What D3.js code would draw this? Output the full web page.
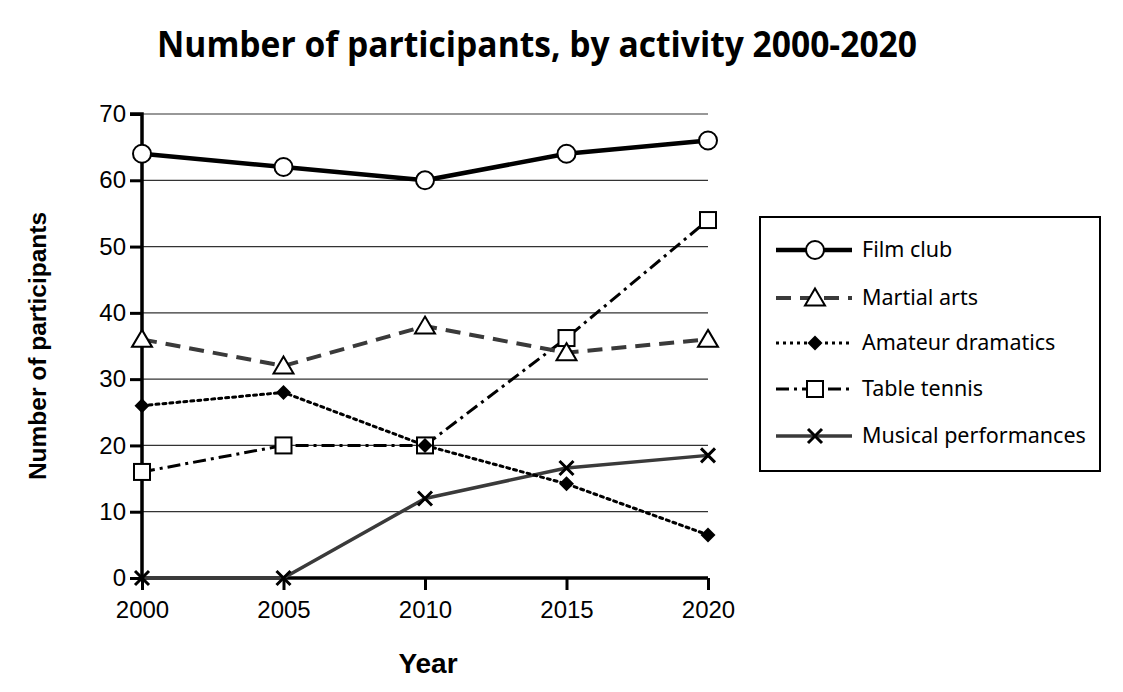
<!DOCTYPE html>
<html><head><meta charset="utf-8">
<script src="https://cdn.jsdelivr.net/npm/d3@7"></script>
<style>body{margin:0;background:#fff}</style>
</head><body>
<svg id="c" width="1123" height="692"></svg>
<script>
const years = [2000, 2005, 2010, 2015, 2020];
const yTicks = [0, 10, 20, 30, 40, 50, 60, 70];
const seriesNames = ["Film club", "Martial arts", "Amateur dramatics", "Table tennis", "Musical performances"];
const filmClub = [64, 62, 60, 64, 66];
const martialArts = [36, 32, 38, 34, 36];
const amateurDramatics = [26, 28, 20, 14.2, 6.5];
const tableTennis = [16, 20, 20, 36.2, 54];
const musicalPerformances = [0, 0, 12, 16.6, 18.5];

const svg = d3.select("#c");
const x = d3.scaleLinear().domain([2000, 2020]).range([142, 708]);
const y = d3.scaleLinear().domain([0, 70]).range([578, 114]);

const styles = [
  {stroke:"#000", w:4.5, dash:null, marker:"circle"},
  {stroke:"#3a3a3a", w:4, dash:"15,9", marker:"triangle"},
  {stroke:"#000", w:3, dash:"3,4", marker:"diamond"},
  {stroke:"#000", w:3, dash:"13,5,3,5", marker:"square"},
  {stroke:"#3a3a3a", w:3.5, dash:null, marker:"cross"}
];
const data = [filmClub, martialArts, amateurDramatics, tableTennis, musicalPerformances];

// title
svg.append("text").attr("x", 537).attr("y", 57).attr("text-anchor", "middle")
  .attr("font-family", "Open Sans").attr("font-weight", "bold").attr("font-size", 35)
  .attr("textLength", 760).attr("lengthAdjust", "spacingAndGlyphs")
  .text("Number of participants, by activity 2000-2020");

// gridlines
svg.append("g").selectAll("line").data(yTicks.filter(d => d > 0)).join("line")
  .attr("x1", x(2000)).attr("x2", x(2020)).attr("y1", d => y(d)).attr("y2", d => y(d))
  .attr("stroke", "#333").attr("stroke-width", 1.2);

// axes
const yAxis = svg.append("g").attr("transform", `translate(${x(2000)},0)`)
  .call(d3.axisLeft(y).tickValues(yTicks).tickSize(12).tickPadding(4).tickFormat(d3.format("d")));
const xAxis = svg.append("g").attr("transform", `translate(0,${y(0)})`)
  .call(d3.axisBottom(x).tickValues(years).tickSize(12).tickPadding(11).tickFormat(d3.format("d")));
[yAxis, xAxis].forEach(a => {
  a.select(".domain").attr("stroke", "#000").attr("stroke-width", 3.5);
  a.selectAll(".tick line").attr("stroke", "#000").attr("stroke-width", 3);
  a.selectAll(".tick text").attr("font-family", "Liberation Sans, Arial").attr("font-size", 24).attr("fill", "#000");
});
yAxis.select(".domain").attr("d", `M-12,${y(70)}H0V${y(0)}`);
xAxis.select(".domain").attr("d", `M${x(2000)},0H${x(2020)}`);

// axis labels
svg.append("text").attr("transform", "translate(46,346) rotate(-90)").attr("text-anchor", "middle")
  .attr("font-family", "Liberation Sans, Arial").attr("font-weight", "bold").attr("font-size", 24.5)
  .text("Number of participants");
svg.append("text").attr("x", 428).attr("y", 673).attr("text-anchor", "middle")
  .attr("font-family", "Liberation Sans, Arial").attr("font-weight", "bold").attr("font-size", 28)
  .text("Year");

function drawMarker(g, type, cx, cy) {
  if (type === "circle") g.append("circle").attr("cx", cx).attr("cy", cy).attr("r", 9).attr("fill", "#fff").attr("stroke", "#000").attr("stroke-width", 2);
  else if (type === "triangle") g.append("path").attr("d", `M${cx},${cy-9.5}L${cx+10},${cy+7.5}L${cx-10},${cy+7.5}Z`).attr("fill", "#fff").attr("stroke", "#000").attr("stroke-width", 2);
  else if (type === "diamond") g.append("path").attr("d", `M${cx},${cy-7.5}L${cx+7.5},${cy}L${cx},${cy+7.5}L${cx-7.5},${cy}Z`).attr("fill", "#000");
  else if (type === "square") g.append("rect").attr("x", cx-8).attr("y", cy-8).attr("width", 16).attr("height", 16).attr("fill", "#fff").attr("stroke", "#000").attr("stroke-width", 2);
  else if (type === "cross") g.append("path").attr("d", `M${cx-7},${cy-7}L${cx+7},${cy+7}M${cx+7},${cy-7}L${cx-7},${cy+7}`).attr("stroke", "#000").attr("stroke-width", 3);
}

const line = d3.line().x((d, i) => x(years[i])).y(d => y(d));
const order = [4, 3, 2, 1, 0];
order.forEach(si => {
  const s = styles[si];
  svg.append("path").datum(data[si]).attr("d", line).attr("fill", "none")
    .attr("stroke", s.stroke).attr("stroke-width", s.w).attr("stroke-dasharray", s.dash)
    .attr("stroke-linecap", s.marker === "diamond" ? "round" : "butt").attr("stroke-linejoin", "round");
});
order.forEach(si => {
  const g = svg.append("g");
  data[si].forEach((v, i) => drawMarker(g, styles[si].marker, x(years[i]), y(v)));
});

// legend
const lg = svg.append("g");
lg.append("rect").attr("x", 760).attr("y", 217).attr("width", 340).attr("height", 254)
  .attr("fill", "#fff").attr("stroke", "#000").attr("stroke-width", 2);
const legY = [250, 298, 343, 389, 436];
seriesNames.forEach((n, i) => {
  const s = styles[i];
  lg.append("line").attr("x1", 776).attr("x2", 852).attr("y1", legY[i]).attr("y2", legY[i])
    .attr("stroke", s.stroke).attr("stroke-width", s.w).attr("stroke-dasharray", s.dash);
  drawMarker(lg, s.marker, 815, legY[i]);
  lg.append("text").attr("x", 862).attr("y", legY[i] + 7).attr("font-family", "Noto Sans, Open Sans")
    .attr("font-size", 21.5).text(n);
});
</script>
</body></html>
